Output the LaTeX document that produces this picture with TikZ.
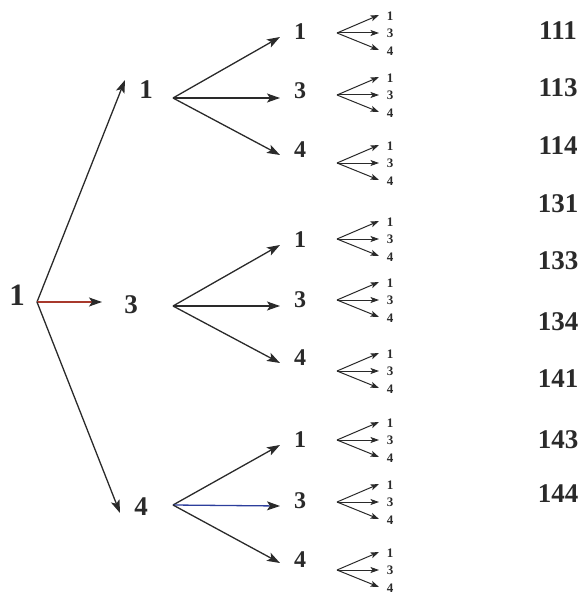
\documentclass[tikz,border=0pt]{standalone}
\usepackage{fontspec}
\setmainfont{Liberation Serif}
\usetikzlibrary{arrows.meta}
\definecolor{ink}{HTML}{2A2A2A}
\definecolor{redline}{HTML}{A8392C}
\definecolor{blueline}{HTML}{2C3E9C}
\begin{document}
\begin{tikzpicture}[x=1pt,y=-1pt,
  big/.style={draw=ink, line width=1.3pt, -{Stealth[length=13pt,width=9pt,inset=3pt]}},
  tiny/.style={draw=ink, line width=1pt, -{Stealth[length=8.5pt,width=6pt,inset=2pt]}},
  rootlbl/.style={inner sep=0pt, text=ink, font=\fontsize{31}{33}\selectfont\bfseries},
  lvone/.style={inner sep=0pt, text=ink, font=\fontsize{27}{29}\selectfont\bfseries},
  lvtwo/.style={inner sep=0pt, text=ink, font=\fontsize{24}{26}\selectfont\bfseries},
  lvthree/.style={inner sep=0pt, text=ink, font=\fontsize{13}{14}\selectfont\bfseries},
  result/.style={inner sep=0pt, text=ink, font=\fontsize{27}{29}\selectfont\bfseries}]
\useasboundingbox (0,0) rectangle (584,596);
% root
\node[rootlbl] (r) at (17,295) {1};
\coordinate (ro) at (37,302);
% level 1
\node[lvone] (a1) at (146,90) {1};  \coordinate (a1o) at (173,98);
\node[lvone] (a3) at (131,305) {3}; \coordinate (a3o) at (173,306);
\node[lvone] (a4) at (141,507) {4}; \coordinate (a4o) at (173,505);
\coordinate (ta1) at (125,80);
\coordinate (ta3) at (102,302);
\coordinate (ta4) at (120,513);
\draw[big] (ro) -- (ta1);
\draw[big, draw=redline, -{Stealth[length=13pt,width=9pt,inset=3pt,color=ink]}] (ro) -- (ta3);
\draw[big] (ro) -- (ta4);
% level 2 and level 3 fans
\foreach \i/\p/\d/\ly/\ty/\fy/\c in {
  1/a1/1/32/37/33/ink, 2/a1/3/91/98/95/ink, 3/a1/4/150/155/163/ink,
  4/a3/1/240/245/239/ink, 5/a3/3/300/306/300/ink, 6/a3/4/358/363/371/ink,
  7/a4/1/440/445/440/ink, 8/a4/3/501/506/502/blueline, 9/a4/4/560/563/570/ink}{
  \node[lvtwo] (b\i) at (300,\ly) {\d};
  \coordinate (tb\i) at (280,\ty);
  \draw[big, draw=\c, -{Stealth[length=13pt,width=9pt,inset=3pt,color=ink]}] (\p o) -- (tb\i);
  \coordinate (f\i) at (337,\fy);
  \coordinate (f\i u) at (379,\fy-18);
  \coordinate (f\i m) at (379,\fy);
  \coordinate (f\i d) at (379,\fy+17);
  \node[lvthree] (c\i a) at (390,\fy-17) {1};
  \node[lvthree] (c\i b) at (390,\fy) {3};
  \node[lvthree] (c\i c) at (390,\fy+18) {4};
  \draw[tiny] (f\i) -- (f\i u);
  \draw[tiny] (f\i) -- (f\i m);
  \draw[tiny] (f\i) -- (f\i d);
}
% results column
\foreach \k/\t/\y in {1/111/31, 2/113/88, 3/114/146, 4/131/204, 5/133/261,
  6/134/322, 7/141/379, 8/143/440, 9/144/494}{
  \node[result] (s\k) at (558,\y) {\t};
}
\end{tikzpicture}
\end{document}
